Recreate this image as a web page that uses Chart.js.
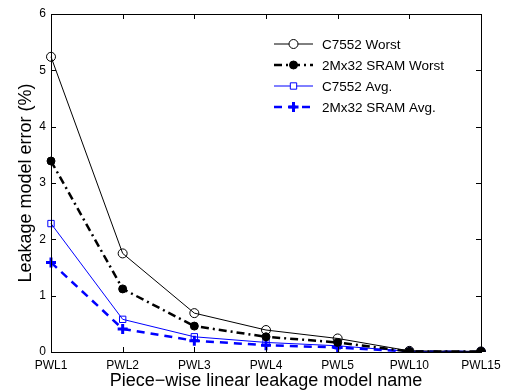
<!DOCTYPE html>
<html>
<head>
<meta charset="utf-8">
<script src="https://cdn.jsdelivr.net/npm/chart.js@4.4.0/dist/chart.umd.min.js"></script>
<style>
  html, body { margin: 0; padding: 0; background: #fff; }
  #wrap { width: 515px; height: 392px; }
</style>
</head>
<body>
<div id="wrap"><canvas id="chart" width="515" height="392"></canvas></div>
<script>
// categorie (nomi dei modelli PWL)
const modelNames = ['PWL1', 'PWL2', 'PWL3', 'PWL4', 'PWL5', 'PWL10', 'PWL15'];

// errori stimati dal grafico (%)
const c7552Worst = [5.24, 1.75, 0.69, 0.39, 0.24, 0.02, 0.01];
const sramWorst  = [3.39, 1.12, 0.46, 0.27, 0.17, 0.01, 0.01];
const c7552Avg   = [2.28, 0.58, 0.27, 0.17, 0.11, 0.01, 0.01];
const sramAvg    = [1.59, 0.41, 0.20, 0.12, 0.08, 0.01, 0.00];

const yTicks = [0, 1, 2, 3, 4, 5, 6];

const FONT = 'Liberation Sans, Arial, Helvetica, sans-serif';

// box + tacche interne stile MATLAB
const boxTicks = {
    id: 'boxTicks',
    afterDraw(chart) {
        const ctx = chart.ctx;
        const a = chart.chartArea;
        const xs = chart.scales.x;
        const ys = chart.scales.y;
        const len = 5;
        ctx.save();
        ctx.strokeStyle = '#000';
        ctx.lineWidth = 1;
        ctx.beginPath();
        xs.ticks.forEach((t, i) => {
            const px = Math.round(xs.getPixelForTick(i)) + 0.5;
            ctx.moveTo(px, a.bottom); ctx.lineTo(px, a.bottom - len);
            ctx.moveTo(px, a.top); ctx.lineTo(px, a.top + len);
        });
        ys.ticks.forEach((t, i) => {
            const py = Math.round(ys.getPixelForTick(i)) + 0.5;
            ctx.moveTo(a.left, py); ctx.lineTo(a.left + len, py);
            ctx.moveTo(a.right, py); ctx.lineTo(a.right - len, py);
        });
        ctx.stroke();
        ctx.strokeRect(Math.round(a.left) + 0.5, Math.round(a.top) + 0.5,
                       Math.round(a.right - a.left), Math.round(a.bottom - a.top));
        ctx.restore();
    }
};

// legenda disegnata a mano (linea + marker)
const matLegend = {
    id: 'matLegend',
    afterDraw(chart) {
        const ctx = chart.ctx;
        const x0 = 274, x1 = 313, tx = 322;
        const rows = [44, 65, 86, 107];
        ctx.save();
        chart.data.datasets.forEach((ds, i) => {
            const y = rows[i];
            ctx.strokeStyle = ds.borderColor;
            ctx.lineWidth = ds.borderWidth;
            ctx.setLineDash(ds.borderDash || []);
            ctx.beginPath();
            ctx.moveTo(x0, y); ctx.lineTo(x1, y);
            ctx.stroke();
            ctx.setLineDash([]);
            ctx.fillStyle = ds.pointBackgroundColor;
            ctx.strokeStyle = ds.pointBorderColor;
            ctx.lineWidth = ds.pointBorderWidth;
            if (ds.pointStyle !== 'cross') {
                // pulisce la linea sotto il marker vuoto
                ctx.save();
                ctx.fillStyle = ds.pointBackgroundColor === 'rgba(0,0,0,0)' ? '#fff' : ds.pointBackgroundColor;
                Chart.helpers.drawPoint(ctx, {
                    pointStyle: ds.pointStyle, radius: ds.pointRadius,
                    borderWidth: ds.pointBorderWidth, rotation: 0
                }, (x0 + x1) / 2, y);
                ctx.restore();
            } else {
                Chart.helpers.drawPoint(ctx, {
                    pointStyle: ds.pointStyle, radius: ds.pointRadius,
                    borderWidth: ds.pointBorderWidth, rotation: 0
                }, (x0 + x1) / 2, y);
            }
            ctx.fillStyle = '#000';
            ctx.font = '13.5px ' + FONT;
            ctx.textBaseline = 'middle';
            ctx.fillText(ds.label, tx, y + 1);
        });
        ctx.restore();
    }
};

new Chart(document.getElementById('chart'), {
    type: 'line',
    data: {
        labels: modelNames,
        datasets: [
            {
                label: 'C7552 Worst',
                data: c7552Worst,
                borderColor: '#000',
                borderWidth: 1,
                pointStyle: 'circle',
                pointRadius: 4.5,
                pointBorderWidth: 1,
                pointBackgroundColor: 'rgba(0,0,0,0)',
                pointBorderColor: '#000'
            },
            {
                label: '2Mx32 SRAM Worst',
                data: sramWorst,
                borderColor: '#000',
                borderWidth: 2.5,
                borderDash: [8, 4, 2, 4],
                pointStyle: 'circle',
                pointRadius: 4,
                pointBorderWidth: 1,
                pointBackgroundColor: '#000',
                pointBorderColor: '#000'
            },
            {
                label: 'C7552 Avg.',
                data: c7552Avg,
                borderColor: '#0000ff',
                borderWidth: 1,
                pointStyle: 'rect',
                pointRadius: 4.5,
                pointBorderWidth: 1,
                pointBackgroundColor: 'rgba(0,0,0,0)',
                pointBorderColor: '#0000ff'
            },
            {
                label: '2Mx32 SRAM Avg.',
                data: sramAvg,
                borderColor: '#0000ff',
                borderWidth: 2.5,
                borderDash: [8, 6],
                pointStyle: 'cross',
                pointRadius: 5,
                pointBorderWidth: 3,
                pointBackgroundColor: '#0000ff',
                pointBorderColor: '#0000ff'
            }
        ]
    },
    options: {
        responsive: false,
        animation: false,
        layout: { padding: { top: 14, right: 34, left: 0, bottom: 0 } },
        plugins: {
            legend: { display: false },
            tooltip: { enabled: false }
        },
        elements: { line: { tension: 0 } },
        scales: {
            x: {
                grid: { display: false, drawTicks: false },
                border: { display: false },
                ticks: {
                    color: '#000',
                    font: { family: FONT, size: 12 },
                    padding: 6,
                    maxRotation: 0,
                    autoSkip: false
                },
                title: {
                    display: true,
                    text: 'Piece\u2212wise linear leakage model name',
                    color: '#000',
                    font: { family: FONT, size: 18 },
                    padding: { top: 0, bottom: 0 }
                },
                afterFit(scale) { scale.height = 40; }
            },
            y: {
                min: 0,
                max: 6,
                afterBuildTicks(scale) { scale.ticks = yTicks.map(v => ({ value: v })); },
                grid: { display: false, drawTicks: false },
                border: { display: false },
                ticks: {
                    color: '#000',
                    font: { family: FONT, size: 12 },
                    padding: 5
                },
                title: {
                    display: true,
                    text: 'Leakage model error (%)',
                    color: '#000',
                    font: { family: FONT, size: 18 },
                    padding: { top: 15, bottom: 0 }
                },
                afterFit(scale) { scale.width = 51; }
            }
        }
    },
    plugins: [boxTicks, matLegend]
});
</script>
</body>
</html>
